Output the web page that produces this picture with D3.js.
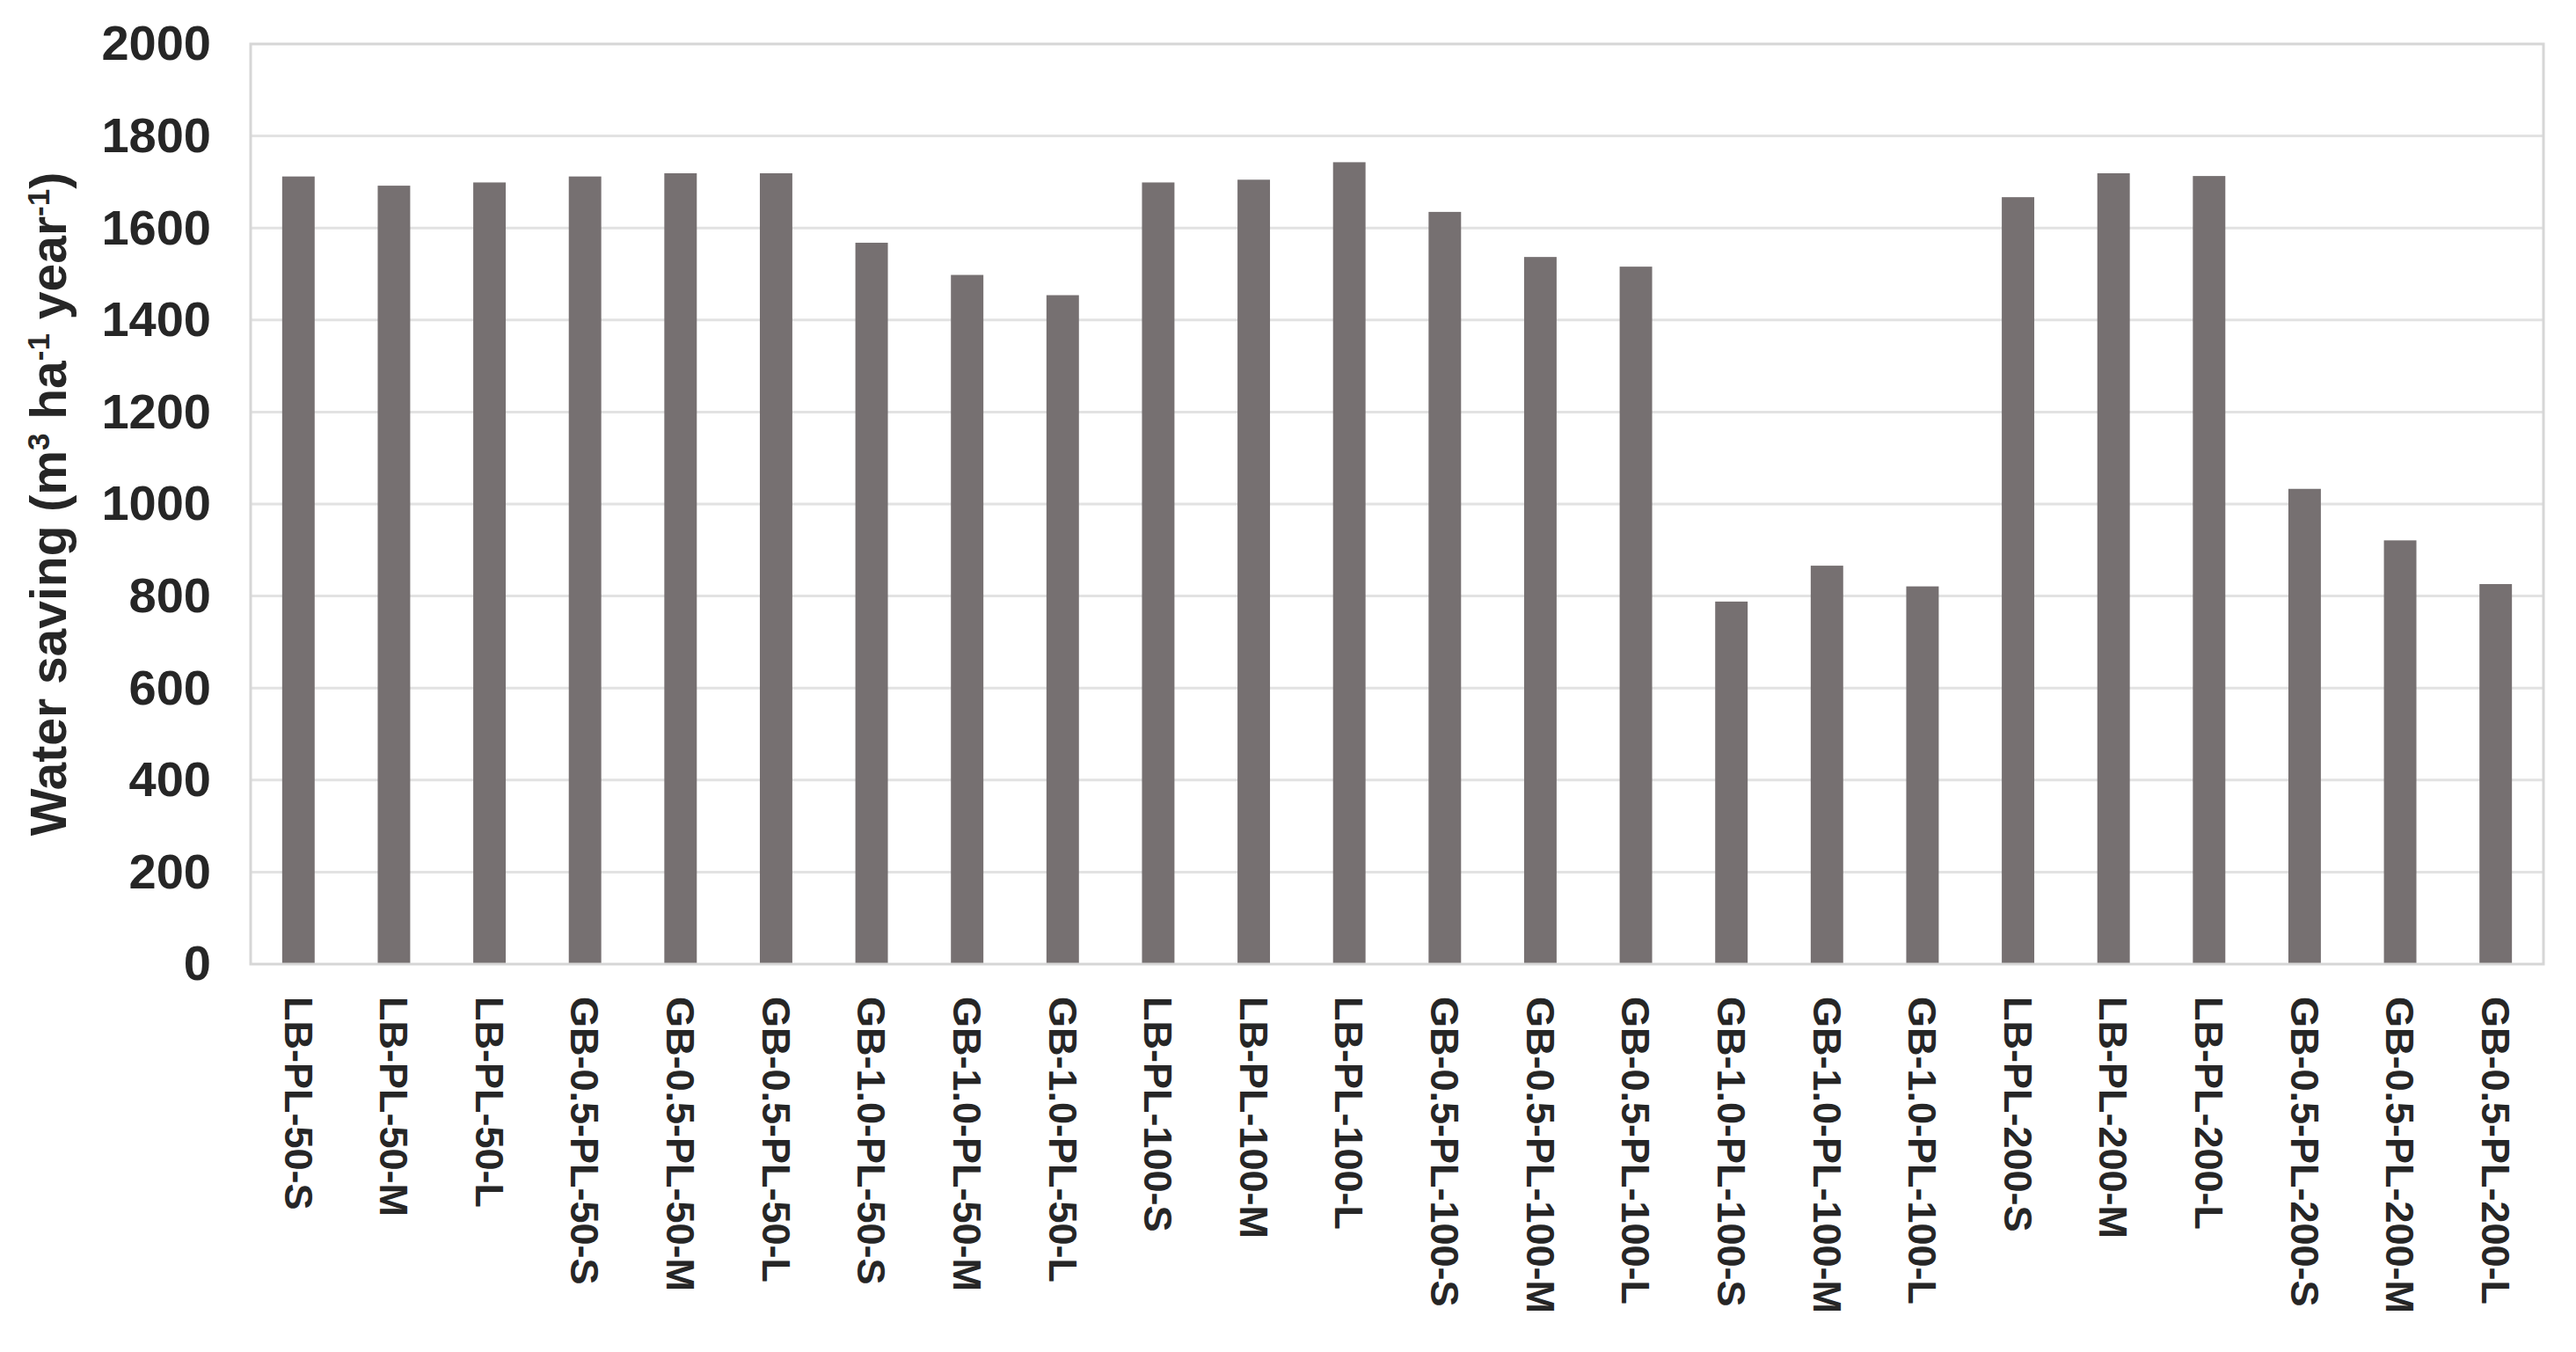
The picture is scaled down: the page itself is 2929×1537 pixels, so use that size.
<!DOCTYPE html>
<html>
<head>
<meta charset="utf-8">
<script src="https://cdnjs.cloudflare.com/ajax/libs/d3/7.8.5/d3.min.js"></script>
<style>
body { margin: 0; background: #fff; }
text { font-family: "Liberation Sans", Arial, sans-serif; font-weight: bold; fill: #262626; }
</style>
</head>
<body>
<svg id="chart" width="2929" height="1537"></svg>
<script>
var categories = [
    "LB-PL-50-S", "LB-PL-50-M", "LB-PL-50-L",
    "GB-0.5-PL-50-S", "GB-0.5-PL-50-M", "GB-0.5-PL-50-L",
    "GB-1.0-PL-50-S", "GB-1.0-PL-50-M", "GB-1.0-PL-50-L",
    "LB-PL-100-S", "LB-PL-100-M", "LB-PL-100-L",
    "GB-0.5-PL-100-S", "GB-0.5-PL-100-M", "GB-0.5-PL-100-L",
    "GB-1.0-PL-100-S", "GB-1.0-PL-100-M", "GB-1.0-PL-100-L",
    "LB-PL-200-S", "LB-PL-200-M", "LB-PL-200-L",
    "GB-0.5-PL-200-S", "GB-0.5-PL-200-M", "GB-0.5-PL-200-L"
];

// m3 ha-1 year-1
var water_saving = [
    1712, 1692, 1699,
    1712, 1719, 1719,
    1568, 1498, 1454,
    1699, 1705, 1743,
    1635, 1537, 1516,
    788, 866, 821,
    1667, 1719, 1713,
    1033, 921, 826
];

var y_ticks = [0, 200, 400, 600, 800, 1000, 1200, 1400, 1600, 1800, 2000];

var plot_left = 285, plot_right = 2892,
    plot_top = 50, plot_bottom = 1096;

var svg = d3.select("#chart");

var x = d3.scaleBand().domain(categories)
    .range([plot_left, plot_right])
    .paddingInner(0.66).paddingOuter(0.33);

var y = d3.scaleLinear().domain([0, 2000]).range([plot_bottom, plot_top]);

// grid lines
svg.append("g").classed("grid", true)
    .selectAll("line").data(y_ticks.filter(function (d) { return d > 0 && d < 2000; }))
    .enter().append("line")
    .attr("x1", plot_left).attr("x2", plot_right)
    .attr("y1", function (d) { return y(d); })
    .attr("y2", function (d) { return y(d); })
    .attr("stroke", "#e2e2e2").attr("stroke-width", 3);

// bars
svg.append("g").classed("bars", true)
    .selectAll("rect").data(water_saving)
    .enter().append("rect")
    .attr("x", function (d, i) { return x(categories[i]); })
    .attr("width", x.bandwidth())
    .attr("y", function (d) { return y(d); })
    .attr("height", function (d) { return y(0) - y(d); })
    .attr("fill", "#767071");

// plot area border
svg.append("rect")
    .attr("x", plot_left).attr("y", plot_top)
    .attr("width", plot_right - plot_left).attr("height", plot_bottom - plot_top)
    .attr("fill", "none").attr("stroke", "#d6d6d6").attr("stroke-width", 3);

// y axis labels
var y_axis = d3.axisLeft(y).tickValues(y_ticks).tickFormat(d3.format("d"))
    .tickSize(0).tickPadding(45);
svg.append("g").attr("transform", `translate(${plot_left},0)`).call(y_axis)
    .call(function (g) { g.select(".domain").remove(); })
    .selectAll("text")
    .attr("font-size", 56)
    .attr("font-family", null)
    .attr("fill", null);

// x axis labels, rotated
var x_axis = d3.axisBottom(x).tickSize(0).tickPadding(0);
svg.append("g").attr("transform", `translate(0,${plot_bottom})`).call(x_axis)
    .call(function (g) { g.select(".domain").remove(); })
    .selectAll("text")
    .attr("font-size", 45)
    .attr("font-family", null)
    .attr("fill", null)
    .attr("transform", "translate(0,37) rotate(90)")
    .attr("x", 0).attr("y", 0).attr("dy", "0.35em")
    .attr("text-anchor", "start");

// y axis title
var title = svg.append("text")
    .attr("transform", `translate(75,${(plot_top + plot_bottom) / 2}) rotate(-90)`)
    .attr("text-anchor", "middle")
    .attr("font-size", 57);
title.append("tspan").text("Water saving (m");
title.append("tspan").attr("baseline-shift", "super").attr("font-size", 35).text("3");
title.append("tspan").text(" ha");
title.append("tspan").attr("baseline-shift", "super").attr("font-size", 35).text("-1");
title.append("tspan").text(" year");
title.append("tspan").attr("baseline-shift", "super").attr("font-size", 35).text("-1");
title.append("tspan").text(")");
</script>
</body>
</html>
